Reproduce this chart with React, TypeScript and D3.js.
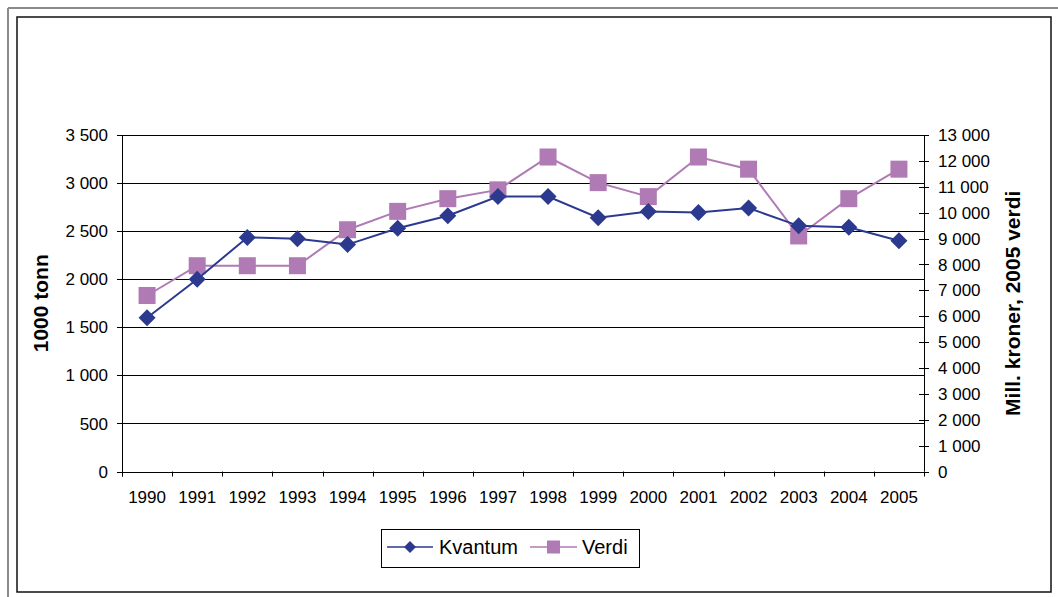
import React from "react";
import * as d3 from "d3";

const years = ["1990","1991","1992","1993","1994","1995","1996","1997","1998","1999","2000","2001","2002","2003","2004","2005"];
const kvantum = [1600, 2000, 2435, 2420, 2360, 2530, 2660, 2860, 2860, 2640, 2705, 2695, 2740, 2555, 2540, 2400];
const verdi = [6800, 7950, 7950, 7950, 9340, 10050, 10540, 10880, 12150, 11160, 10620, 12150, 11680, 9100, 10540, 11680];
const leftTicks = [0, 500, 1000, 1500, 2000, 2500, 3000, 3500];
const rightTicks = [0, 1000, 2000, 3000, 4000, 5000, 6000, 7000, 8000, 9000, 10000, 11000, 12000, 13000];
const seriesNames = ["Kvantum", "Verdi"];

const W = 1058, H = 597;
const L = 122, R = 924, T = 135, B = 471.5;
const BLUE = "#2b3a8e";
const PINK = "#b07ab4";
const FONT = "Liberation Sans, Arial, sans-serif";

const fmt = (v: number) => {
  const s = String(v);
  return s.length > 3 ? s.slice(0, s.length - 3) + " " + s.slice(s.length - 3) : s;
};

function Diamond({ x, y, r, fill }: { x: number; y: number; r: number; fill: string }) {
  return <path d={`M${x},${y - r}L${x + r},${y}L${x},${y + r}L${x - r},${y}Z`} fill={fill} />;
}

export default function App() {
  const x = d3.scaleBand<string>().domain(years).range([L, R]).padding(0);
  const yL = d3.scaleLinear().domain([0, 3500]).range([B, T]);
  const yR = d3.scaleLinear().domain([0, 13000]).range([B, T]);
  const cx = (d: string) => (x(d) as number) + x.bandwidth() / 2;

  const lineK = d3.line<number>().x((_, i) => cx(years[i])).y((d) => yL(d));
  const lineV = d3.line<number>().x((_, i) => cx(years[i])).y((d) => yR(d));

  const boundaries = years.map((y) => x(y) as number).concat([R]);

  return (
    <svg width={W} height={H} style={{ position: "absolute", left: 0, top: 0, background: "#fff" }} fontFamily={FONT}>
      <rect x={0} y={0} width={W} height={H} fill="#fff" />
      {/* outer frames */}
      <line x1={8} y1={8} x2={W} y2={8} stroke="#8a8a8a" strokeWidth={2} />
      <line x1={8} y1={8} x2={8} y2={H} stroke="#8a8a8a" strokeWidth={2} />
      <rect x={17} y={17} width={1034} height={575} fill="none" stroke="#111" strokeWidth={1.5} />

      {/* gridlines */}
      {leftTicks.map((t) => (
        <line key={"g" + t} x1={L - 5} x2={R} y1={Math.round(yL(t)) + 0.5} y2={Math.round(yL(t)) + 0.5} stroke="#000" strokeWidth={1} />
      ))}
      {/* left axis */}
      <line x1={L + 0.5} x2={L + 0.5} y1={T} y2={B + 5} stroke="#000" strokeWidth={1} />
      {leftTicks.map((t) => (
        <text key={"lt" + t} x={108} y={yL(t)} dy="0.36em" textAnchor="end" fontSize={17} fill="#000">{fmt(t)}</text>
      ))}
      {/* right axis */}
      <line x1={R + 0.5} x2={R + 0.5} y1={T} y2={B} stroke="#000" strokeWidth={1} />
      {rightTicks.map((t) => (
        <line key={"rt" + t} x1={R - 5} x2={R + 5} y1={Math.round(yR(t)) + 0.5} y2={Math.round(yR(t)) + 0.5} stroke="#000" strokeWidth={1} />
      ))}
      {rightTicks.map((t) => (
        <text key={"rl" + t} x={938} y={yR(t)} dy="0.36em" textAnchor="start" fontSize={17} fill="#000">{fmt(t)}</text>
      ))}
      {/* x axis */}
      {boundaries.map((b, i) => (
        <line key={"xt" + i} x1={Math.round(b) + 0.5} x2={Math.round(b) + 0.5} y1={B} y2={B + 5} stroke="#000" strokeWidth={1} />
      ))}
      {years.map((yv) => (
        <text key={"xl" + yv} x={cx(yv)} y={497} dy="0.36em" textAnchor="middle" fontSize={17} fill="#000">{yv}</text>
      ))}

      {/* axis titles */}
      <text transform={`translate(48,${(T + B) / 2}) rotate(-90)`} textAnchor="middle" fontSize={21} fontWeight="bold" fill="#000">1000 tonn</text>
      <text transform={`translate(1020,${(T + B) / 2}) rotate(-90)`} textAnchor="middle" fontSize={21} fontWeight="bold" fill="#000">Mill. kroner, 2005 verdi</text>

      {/* series */}
      <path d={lineV(verdi) || ""} fill="none" stroke={PINK} strokeWidth={2} />
      {verdi.map((v, i) => (
        <rect key={"v" + i} x={cx(years[i]) - 8.5} y={yR(v) - 8.5} width={17} height={17} fill={PINK} />
      ))}
      <path d={lineK(kvantum) || ""} fill="none" stroke={BLUE} strokeWidth={2} />
      {kvantum.map((v, i) => (
        <Diamond key={"k" + i} x={cx(years[i])} y={yL(v)} r={8.5} fill={BLUE} />
      ))}

      {/* legend */}
      <rect x={381.5} y={529.5} width={258} height={38} fill="#fff" stroke="#000" strokeWidth={1} />
      <line x1={387} x2={433} y1={547} y2={547} stroke={BLUE} strokeWidth={1.5} />
      <Diamond x={410} y={547} r={6} fill={BLUE} />
      <text x={439} y={547} dy="0.36em" fontSize={20} fill="#000">{seriesNames[0]}</text>
      <line x1={530} x2={577} y1={547} y2={547} stroke={PINK} strokeWidth={1.5} />
      <rect x={547} y={540.5} width={13} height={13} fill={PINK} />
      <text x={582} y={547} dy="0.36em" fontSize={20} fill="#000">{seriesNames[1]}</text>
    </svg>
  );
}
